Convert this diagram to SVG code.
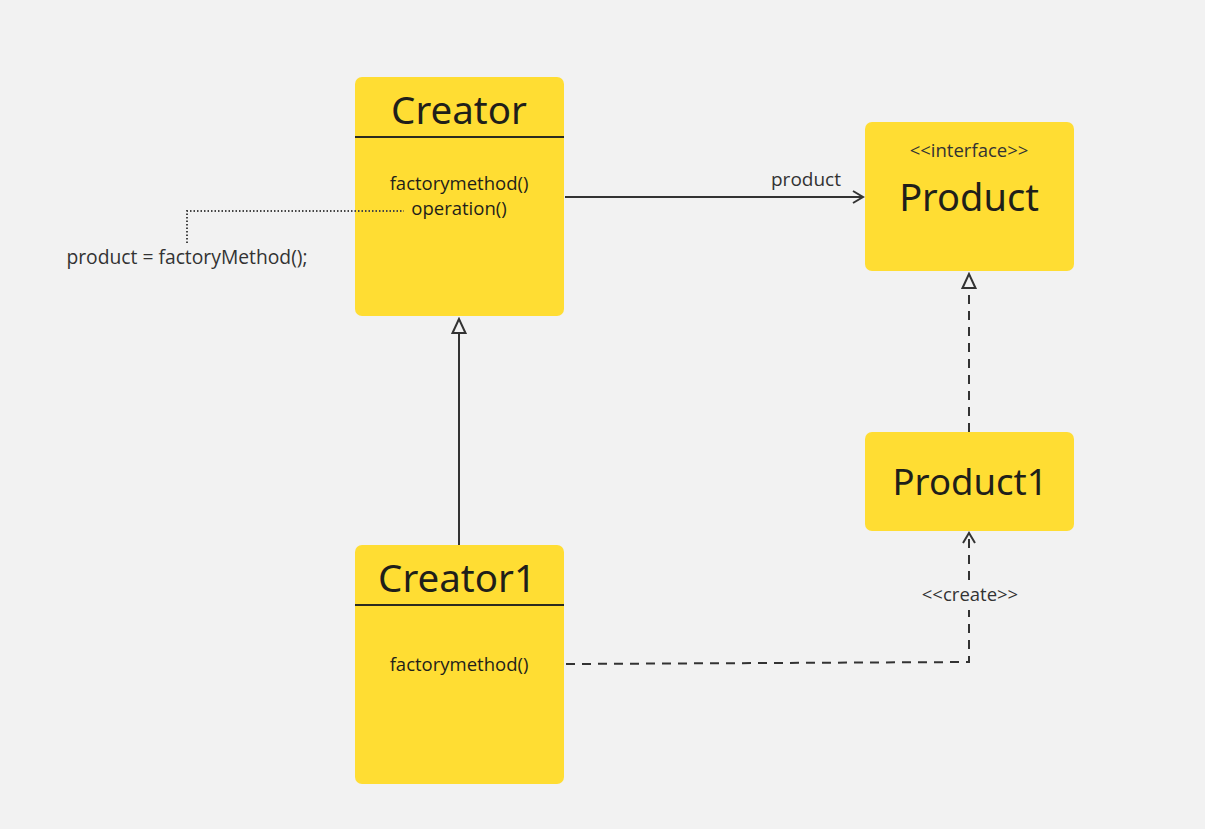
<svg xmlns="http://www.w3.org/2000/svg" width="1205" height="829" viewBox="0 0 1205 829">
<defs>
<style>
.node{fill:#FFDD33;}
.sep{stroke:#2b2b1f;stroke-width:2;}
.title{font-family:"Noto Sans","Open Sans",sans-serif;fill:#1f1f1a;text-anchor:middle;}
.member{font-family:"Open Sans","Noto Sans",sans-serif;font-size:18.5px;font-weight:500;fill:#1f1f1a;text-anchor:middle;}
.lbl{font-family:"Open Sans","Noto Sans",sans-serif;fill:#333;}
.line{fill:none;stroke:#333;stroke-width:2;}
.dash{fill:none;stroke:#333;stroke-width:2;stroke-dasharray:9 7;}
.dot{fill:none;stroke:#444;stroke-width:2;stroke-dasharray:1.5 2;}
</style>
<marker id="open" viewBox="0 0 14 14" refX="12" refY="7" markerWidth="14" markerHeight="14" markerUnits="userSpaceOnUse" orient="auto">
<path d="M2,1 L12,7 L2,13" fill="none" stroke="#333" stroke-width="2"/>
</marker>
<marker id="tri" viewBox="0 0 18 18" refX="16" refY="9" markerWidth="18" markerHeight="18" markerUnits="userSpaceOnUse" orient="auto">
<path d="M16,9 L2,2.5 L2,15.5 Z" fill="#F2F2F2" stroke="#333" stroke-width="2"/>
</marker>
</defs>
<rect width="1205" height="829" fill="#F2F2F2"/>
<g id="creator">
<rect class="node" x="355" y="77" width="209" height="239" rx="7"/>
<line class="sep" x1="355" y1="137" x2="564" y2="137"/>
<text class="title" x="459" y="124" font-size="38.5">Creator</text>
<text class="member" x="459" y="190">factorymethod()</text>
<text class="member" x="459" y="215">operation()</text>
</g>
<g id="product">
<rect class="node" x="865" y="122" width="209" height="149" rx="7"/>
<text class="lbl" x="969" y="157" font-size="18.5" text-anchor="middle" fill="#222">&lt;&lt;interface&gt;&gt;</text>
<text class="title" x="969" y="211" font-size="38" fill="#333">Product</text>
</g>
<g id="product1">
<rect class="node" x="865" y="432" width="209" height="99" rx="7"/>
<text class="title" x="970" y="495" font-size="36.5" fill="#333">Product1</text>
</g>
<g id="creator1">
<rect class="node" x="355" y="545" width="209" height="239" rx="7"/>
<line class="sep" x1="355" y1="605" x2="564" y2="605"/>
<text class="title" x="457" y="592" font-size="38.5">Creator1</text>
<text class="member" x="459" y="671">factorymethod()</text>
</g>
<g id="connectors">
<path class="line" d="M565,197 L863,197" marker-end="url(#open)"/>
<text class="lbl" x="806" y="186" font-size="19" text-anchor="middle">product</text>
<path class="line" d="M459,545 L459,319" marker-end="url(#tri)"/>
<path class="dash" d="M969,432 L969,274" marker-end="url(#tri)"/>
<path class="dash" d="M566,664 L969,662 L969,610"/>
<path class="dash" d="M969,580 L969,533" marker-end="url(#open)"/>
<text class="lbl" x="970" y="601" font-size="18.5" text-anchor="middle">&lt;&lt;create&gt;&gt;</text>
<path class="dot" d="M187,243 L187,211 L404,211"/>
<text class="lbl" x="187" y="264" font-size="19.3" text-anchor="middle">product = factoryMethod();</text>
</g>
</svg>
